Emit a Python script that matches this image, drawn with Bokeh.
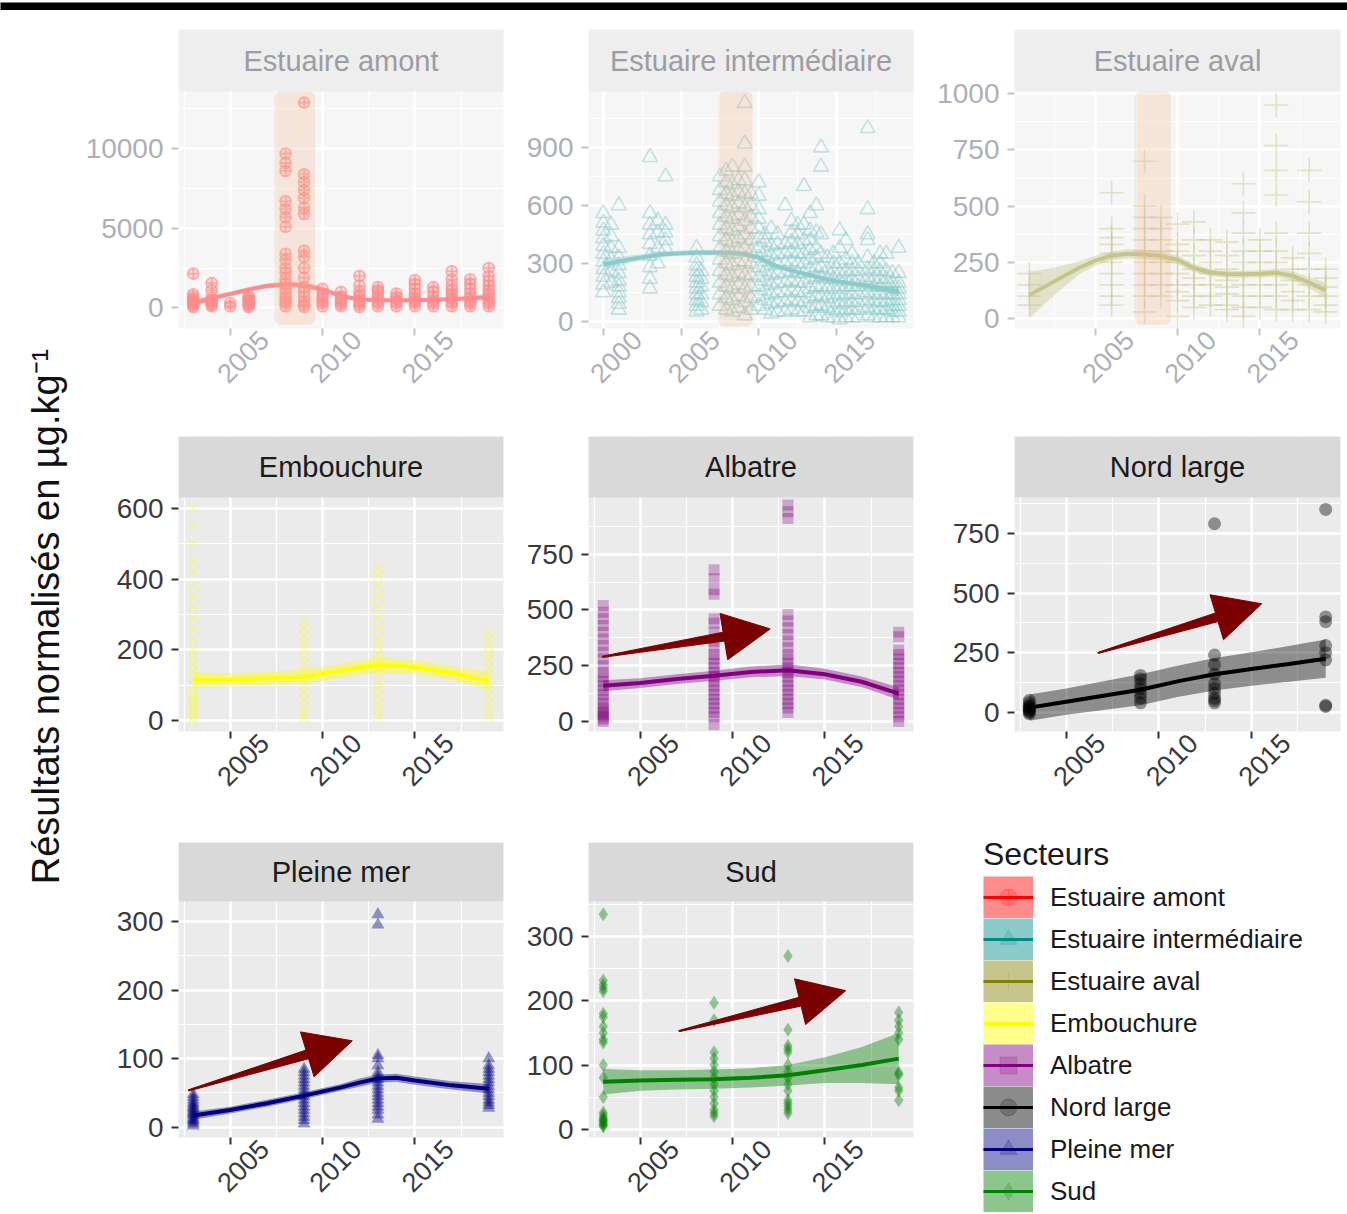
import math
from bokeh.plotting import figure
from bokeh.layouts import row, column
from bokeh.models import (Range1d, FixedTicker, BoxAnnotation, Legend, LegendItem,
                          ColumnDataSource, LinearAxis)
from bokeh.core.properties import value
from bokeh.embed import file_html
from bokeh.resources import INLINE

FONT = "Liberation Sans"

# ---------------- data ----------------
SECTEURS = ["Estuaire amont", "Estuaire intermédiaire", "Estuaire aval", "Embouchure",
            "Albatre", "Nord large", "Pleine mer", "Sud"]
COLORS = ["#FF0000", "#008B8B", "#808000", "#FFFF00", "#800080", "#000000", "#000080", "#008000"]
MARKERS = ["circle_cross", "triangle", "cross", "x", "square", "circle", "triangle", "diamond"]
Y_LABEL = "Résultats normalisés en µg.kg⁻¹"

AMONT_PTS = {
    2003: [50, 150, 250, 350, 450, 550, 700, 850, 2150],
    2004: [100, 200, 300, 400, 500, 650, 1100, 1550],
    2005: [100, 300],
    2006: [50, 150, 250, 350, 450, 550, 650, 750],
    2008: [100, 300, 500, 700, 900, 1200, 1500, 1800, 2200, 2500, 3000, 3400, 5100, 5700, 6200, 6700, 8600, 9100, 9700],
    2009: [50, 200, 400, 700, 1000, 1300, 1900, 2500, 3200, 3600, 5900, 6300, 6900, 7400, 7900, 8400, 12900],
    2010: [100, 300, 500, 700, 900, 1200],
    2011: [100, 250, 400, 550, 700, 1000],
    2012: [50, 200, 400, 600, 800, 1000, 1400, 2000],
    2013: [100, 300, 500, 700, 900, 1100, 1300],
    2014: [100, 300, 500, 700, 900],
    2015: [100, 300, 500, 700, 900, 1200, 1500, 1750],
    2016: [100, 300, 500, 700, 1000, 1300],
    2017: [100, 300, 500, 700, 900, 1100, 1400, 1800, 2300],
    2018: [100, 300, 500, 700, 900, 1200, 1500, 1800],
    2019: [100, 300, 500, 700, 900, 1100, 1400, 1700, 2000, 2500],
}
AMONT_FIT_X = [2003, 2004, 2005, 2006, 2007, 2008, 2009, 2010, 2011, 2012, 2013, 2014, 2015, 2016, 2017, 2018, 2019]
AMONT_FIT_Y = [300, 600, 880, 1150, 1380, 1480, 1420, 1150, 750, 520, 480, 470, 480, 500, 540, 600, 680]
AMONT_FIT_H = [250, 180, 150, 150, 170, 180, 180, 170, 150, 130, 120, 120, 120, 120, 130, 150, 200]

INTERM_PTS = {
    2000.0: [150, 190, 230, 270, 310, 350, 390, 430, 470, 510, 560],
    2000.5: [200, 260, 320, 380, 440, 500],
    2001.0: [60, 90, 120, 150, 180, 210, 250, 290, 330, 380, 600],
    2003.0: [170, 220, 280, 340, 400, 450, 500, 560, 850],
    2003.5: [300, 380, 460, 520],
    2004.0: [380, 420, 460, 500, 750],
    2006.0: [50, 80, 110, 140, 170, 200, 230, 260, 290, 330, 380],
    2006.3: [60, 100, 140, 180, 220, 260],
    2007.5: [80, 140, 200, 260, 320, 380, 440, 500, 560, 620, 680, 750],
    2007.9: [60, 120, 180, 240, 300, 360, 420, 480, 540, 600, 660, 720, 780],
    2008.3: [50, 110, 170, 230, 290, 350, 410, 470, 530, 590, 650, 710, 800],
    2008.7: [70, 130, 190, 250, 310, 370, 430, 490, 550, 610, 670, 730],
    2009.1: [30, 100, 170, 240, 310, 380, 450, 520, 590, 660, 730, 800, 920, 1130],
    2009.5: [60, 120, 180, 240, 300, 360, 420, 480, 540, 600, 660],
    2010.0: [80, 130, 180, 230, 280, 330, 380, 430, 480, 530, 580, 650, 720],
    2010.4: [60, 110, 160, 210, 260, 310, 360, 410, 450],
    2010.8: [40, 90, 140, 190, 240, 290, 340, 390, 480],
    2011.2: [50, 100, 150, 200, 250, 300, 350, 400, 450],
    2011.7: [50, 100, 150, 200, 250, 300, 350, 400, 600],
    2012.1: [60, 110, 160, 210, 260, 310, 360, 410, 460, 520],
    2012.5: [50, 100, 150, 200, 250, 300, 350, 400, 450, 500],
    2012.9: [50, 100, 150, 200, 250, 300, 350, 420, 500, 700],
    2013.3: [20, 70, 120, 170, 220, 270, 320, 370, 420, 470, 560],
    2013.7: [30, 80, 130, 180, 230, 280, 330, 380, 460, 600],
    2014.0: [30, 80, 130, 180, 230, 280, 350, 450, 800, 900],
    2014.4: [20, 70, 120, 170, 220, 270, 330],
    2014.8: [20, 60, 100, 140, 180, 220, 260, 300, 350],
    2015.2: [10, 50, 90, 130, 170, 210, 250, 300, 380, 470],
    2015.6: [20, 60, 100, 140, 180, 220, 260, 320, 420],
    2016.0: [20, 60, 100, 140, 180, 220, 260, 300, 350],
    2016.4: [20, 60, 100, 140, 180, 220, 260, 300],
    2017.0: [30, 70, 110, 150, 190, 230, 270, 330, 420, 450, 580, 1000],
    2017.4: [20, 60, 100, 140, 180, 220, 260, 300],
    2017.8: [20, 60, 100, 140, 180, 220, 260, 300, 350],
    2018.2: [20, 60, 100, 140, 180, 220, 260, 350],
    2018.6: [20, 50, 80, 110, 140, 170, 200, 250],
    2019.0: [20, 50, 80, 110, 140, 170, 200, 250, 380],
}
INTERM_FIT_X = [2000, 2001, 2002, 2003, 2004, 2005, 2006, 2007, 2008, 2009, 2010,
                2011, 2012, 2013, 2014, 2015, 2016, 2017, 2018, 2019]
INTERM_FIT_Y = [295, 310, 325, 338, 348, 353, 355, 356, 355, 350, 330, 290, 265, 245, 225, 208, 195, 183, 170, 155]
INTERM_FIT_H = [30, 22, 18, 15, 14, 14, 14, 14, 14, 14, 14, 14, 12, 12, 12, 12, 12, 14, 18, 25]

AVAL_PTS = {
    2001: [60, 100, 150, 200],
    2006: [60, 100, 150, 200, 250, 290, 330, 360, 400, 560],
    2008: [30, 100, 150, 200, 250, 300, 350, 400, 450, 500, 700],
    2009: [100, 150, 200, 250, 300, 350, 400, 450],
    2010: [10, 80, 120, 150, 200, 250, 300, 330, 420],
    2011: [50, 100, 150, 180, 220, 280, 350, 430],
    2012: [60, 100, 150, 200, 250, 300, 350],
    2013: [40, 60, 110, 140, 170, 220, 280, 340],
    2014: [10, 50, 100, 150, 200, 250, 300, 380, 470, 600],
    2015: [50, 100, 150, 200, 250, 300, 350],
    2016: [40, 100, 150, 200, 250, 300, 380, 550, 660, 770, 950],
    2017: [40, 80, 120, 170, 220, 270],
    2018: [40, 100, 150, 220, 290, 380, 520, 660],
    2019: [30, 60, 100, 140, 180, 220],
}
AVAL_FIT_X = [2001, 2002, 2003, 2004, 2005, 2006, 2007, 2008, 2009, 2010,
              2011, 2012, 2013, 2014, 2015, 2016, 2017, 2018, 2019]
AVAL_FIT_Y = [105, 145, 185, 225, 258, 280, 288, 285, 278, 262, 225, 205, 198, 197, 200, 204, 190, 160, 125]
AVAL_FIT_H = [105, 75, 50, 30, 22, 20, 20, 20, 20, 20, 18, 16, 16, 16, 16, 18, 20, 25, 35]

EMB_PTS = {
    2003: [0, 10, 20, 30, 40, 50, 60, 70, 80, 100, 120, 140, 160, 180, 200, 230, 260, 290, 320, 350, 380, 420, 450, 500, 550, 600],
    2009: [10, 20, 40, 60, 80, 100, 120, 140, 160, 180, 200, 220, 240, 260, 280],
    2013: [10, 30, 50, 70, 90, 110, 130, 150, 170, 190, 210, 230, 260, 290, 320, 350, 380, 410, 430],
    2019: [10, 30, 50, 70, 90, 110, 130, 150, 170, 190, 210, 230, 250],
}
EMB_FIT_X = [2003, 2005, 2007, 2009, 2011, 2013, 2015, 2017, 2019]
EMB_FIT_Y = [115, 117, 120, 125, 142, 158, 152, 135, 112]
EMB_FIT_H = [22, 18, 18, 20, 20, 22, 20, 20, 25]

ALB_PTS = {
    2003: [0, 10, 20, 30, 40, 50, 60, 80, 100, 120, 140, 160, 180, 200, 220, 250, 280, 310, 340, 370, 400, 430, 460, 490, 520],
    2009: [-15, 20, 40, 60, 80, 100, 120, 140, 160, 180, 200, 220, 240, 260, 280, 300, 330, 360, 400, 440, 460, 570, 590, 640, 680],
    2013: [40, 60, 80, 100, 120, 140, 160, 180, 200, 220, 240, 260, 280, 300, 330, 360, 390, 420, 450, 480, 910, 940, 970],
    2019: [0, 20, 40, 60, 80, 100, 120, 140, 160, 180, 200, 220, 240, 260, 280, 300, 320, 380, 400],
}
ALB_FIT_X = [2003, 2005, 2007, 2009, 2011, 2013, 2015, 2017, 2019]
ALB_FIT_Y = [160, 172, 190, 205, 222, 230, 212, 178, 125]
ALB_FIT_H = [25, 22, 22, 22, 24, 26, 24, 24, 28]

NORD_PTS = {
    2003: [-5, 0, 5, 10, 15, 20, 25, 30, 40, 50],
    2009: [40, 60, 80, 100, 120, 140, 155],
    2013: [40, 50, 60, 80, 100, 120, 160, 200, 240, 790],
    2019: [25, 30, 220, 250, 280, 380, 400, 850],
}
NORD_FIT_X = [2003, 2005, 2007, 2009, 2011, 2013, 2015, 2017, 2019]
NORD_FIT_Y = [20, 45, 70, 95, 130, 160, 182, 203, 225]
NORD_FIT_H = [55, 55, 60, 65, 65, 68, 70, 75, 80]

PLEINE_PTS = {
    2003: [2, 5, 8, 10, 12, 15, 18, 20, 22, 25, 28, 30, 33, 36, 40, 44, 48],
    2009: [5, 10, 15, 20, 25, 30, 35, 40, 45, 50, 55, 60, 65, 70, 75, 80, 85],
    2013: [12, 18, 25, 30, 35, 40, 45, 50, 55, 60, 65, 70, 75, 80, 90, 100, 105, 295, 310],
    2019: [28, 32, 36, 40, 45, 50, 55, 60, 65, 70, 75, 80, 85, 90, 100],
}
PLEINE_FIT_X = [2003, 2005, 2007, 2009, 2011, 2012, 2013, 2014, 2015, 2017, 2019]
PLEINE_FIT_Y = [17, 25, 35, 46, 58, 65, 71, 72, 68, 61, 56]
PLEINE_FIT_H = [6, 5, 5, 5, 5, 6, 6, 6, 6, 6, 7]

SUD_PTS = {
    2003: [4, 6, 8, 10, 12, 14, 16, 18, 22, 26, 50, 80, 100, 135, 140, 150, 160, 175, 180, 215, 220, 225, 232, 335],
    2009: [20, 25, 30, 40, 50, 60, 70, 80, 90, 100, 110, 120, 170, 197],
    2013: [25, 30, 35, 40, 45, 60, 70, 80, 90, 100, 120, 125, 130, 155, 270],
    2019: [45, 60, 65, 85, 88, 140, 150, 160, 170, 182],
}
SUD_FIT_X = [2003, 2005, 2007, 2009, 2011, 2013, 2015, 2017, 2019]
SUD_FIT_Y = [74, 76, 77, 78, 80, 84, 92, 100, 110]
SUD_FIT_H = [20, 16, 15, 15, 15, 16, 20, 28, 40]

HIGHLIGHT_YEARS = (2007.4, 2009.6)

ARROW_ALBATRE = ((2002.96, 290), (2012.04, 415))
ARROW_NORD = ((2006.71, 249), (2015.55, 455))
ARROW_PLEINE = ((2002.74, 53.6), (2011.61, 126))
ARROW_SUD = ((2007.1, 153), (2016.13, 216))

X_TICKS_A = [2005, 2010, 2015]
X_TICKS_B = [2000, 2005, 2010, 2015]
X_MINOR = [1997.5, 2002.5, 2007.5, 2012.5, 2017.5]

PANELS = [
    dict(pts=AMONT_PTS, fx=AMONT_FIT_X, fy=AMONT_FIT_Y, fh=AMONT_FIT_H, xr=(2002.2, 2019.8), yr=(-1300, 13600),
         xt=X_TICKS_A, yt=[0, 5000, 10000], ym=[2500, 7500, 12500], hb=-1070, arrow=None,
         size=11, alpha=0.7, filled=False, fill_alpha=0.25),
    dict(pts=INTERM_PTS, fx=INTERM_FIT_X, fy=INTERM_FIT_Y, fh=INTERM_FIT_H, xr=(1999.05, 2019.95), yr=(-37, 1190),
         xt=X_TICKS_B, yt=[0, 300, 600, 900], ym=[150, 450, 750, 1050], hb=-26, arrow=None,
         size=15, alpha=0.5, filled=False, fill_alpha=0),
    dict(pts=AVAL_PTS, fx=AVAL_FIT_X, fy=AVAL_FIT_Y, fh=AVAL_FIT_H, xr=(2000.1, 2019.9), yr=(-44, 1010),
         xt=X_TICKS_A, yt=[0, 250, 500, 750, 1000], ym=[125, 375, 625, 875], hb=-27, arrow=None,
         size=24, alpha=0.45, filled=False, fill_alpha=0),
    dict(pts=EMB_PTS, fx=EMB_FIT_X, fy=EMB_FIT_Y, fh=EMB_FIT_H, xr=(2002.2, 2019.8), yr=(-30, 630),
         xt=X_TICKS_A, yt=[0, 200, 400, 600], ym=[100, 300, 500], hb=None, arrow=None,
         size=13, alpha=0.35, filled=False, fill_alpha=0),
    dict(pts=ALB_PTS, fx=ALB_FIT_X, fy=ALB_FIT_Y, fh=ALB_FIT_H, xr=(2002.2, 2019.8), yr=(-45, 1004),
         xt=X_TICKS_A, yt=[0, 250, 500, 750], ym=[125, 375, 625, 875], hb=None, arrow=ARROW_ALBATRE,
         size=11, alpha=0.3, filled=True, fill_alpha=0.3),
    dict(pts=NORD_PTS, fx=NORD_FIT_X, fy=NORD_FIT_Y, fh=NORD_FIT_H, xr=(2002.2, 2019.8), yr=(-80, 900),
         xt=X_TICKS_A, yt=[0, 250, 500, 750], ym=[125, 375, 625, 875], hb=None, arrow=ARROW_NORD,
         size=13, alpha=0.4, filled=True, fill_alpha=0.4),
    dict(pts=PLEINE_PTS, fx=PLEINE_FIT_X, fy=PLEINE_FIT_Y, fh=PLEINE_FIT_H, xr=(2002.2, 2019.8), yr=(-15, 329),
         xt=X_TICKS_A, yt=[0, 100, 200, 300], ym=[50, 150, 250], hb=None, arrow=ARROW_PLEINE,
         size=13, alpha=0.4, filled=True, fill_alpha=0.4),
    dict(pts=SUD_PTS, fx=SUD_FIT_X, fy=SUD_FIT_Y, fh=SUD_FIT_H, xr=(2002.2, 2019.8), yr=(-13, 355),
         xt=X_TICKS_A, yt=[0, 100, 200, 300], ym=[50, 150, 250, 350], hb=None, arrow=ARROW_SUD,
         size=14, alpha=0.4, filled=True, fill_alpha=0.4),
]

# ---------------- layout geometry (pixels) ----------------
TOP_BAR = 10
YLAB_W = 70
COLS = [(440, 108, 7), (410, 78, 7), (427, 94, 7)]             # width, left border, right border
ROWS = [(19, 62, 237, 102), (6, 61, 234, 105), (6, 59, 236, 77)]  # top border, strip, data frame, bottom border
LABEL_SHIFT_PX = 34
KEY_H = 42


def fade(c, f=0.55):
    r, g, b = int(c[1:3], 16), int(c[3:5], 16), int(c[5:7], 16)
    return "#%02x%02x%02x" % tuple(int(round(v + (255 - v) * f)) for v in (r, g, b))


def arrow_polygon(tail, tip, sx, sy):
    x0, y0 = tail[0] * sx, tail[1] * sy
    x1, y1 = tip[0] * sx, tip[1] * sy
    L = math.hypot(x1 - x0, y1 - y0)
    ux, uy = (x1 - x0) / L, (y1 - y0) / L
    nx, ny = -uy, ux
    HL, HW, SW, TW = 47.0, 23.5, 4.5, 0.6
    bx, by = x1 - ux * HL, y1 - uy * HL
    pts = [(x0 + nx * TW, y0 + ny * TW), (bx + nx * SW, by + ny * SW), (bx + nx * HW, by + ny * HW),
           (x1, y1), (bx - nx * HW, by - ny * HW), (bx - nx * SW, by - ny * SW), (x0 - nx * TW, y0 - ny * TW)]
    return [p[0] / sx for p in pts], [p[1] / sy for p in pts]


def make_panel(i, ci, ri):
    cfg = PANELS[i]
    faded = ri == 0
    w, bl, br = COLS[ci]
    bt, sh, dh, bb = ROWS[ri]
    fw = w - bl - br
    x0, x1 = cfg["xr"]
    y0, y1 = cfg["yr"]
    sx = fw / (x1 - x0)
    sy = dh / (y1 - y0)
    y_top = y1 + sh / sy
    col = fade(COLORS[i]) if faded else COLORS[i]

    p = figure(width=w, height=bt + sh + dh + bb, x_range=Range1d(x0, x1), y_range=Range1d(y0, y_top),
               toolbar_location=None, output_backend="svg",
               min_border_left=bl, min_border_right=br, min_border_top=bt, min_border_bottom=bb,
               background_fill_color="#F6F6F6" if faded else "#EBEBEB", border_fill_color="white",
               outline_line_color=None)
    txt_col = "#AFAFB7" if faded else "#3A3A3A"
    tick_col = "#C4C4C4" if faded else "#333333"

    xt_ticker = FixedTicker(ticks=cfg["xt"], minor_ticks=X_MINOR)
    yt_ticker = FixedTicker(ticks=cfg["yt"], minor_ticks=cfg["ym"])
    p.xaxis.ticker = xt_ticker
    p.yaxis.ticker = yt_ticker
    p.xgrid.ticker = xt_ticker
    p.ygrid.ticker = yt_ticker
    for ax in (p.xaxis[0], p.yaxis[0]):
        ax.axis_line_color = None
        ax.major_tick_line_color = tick_col
        ax.major_tick_line_width = 2
        ax.major_tick_out = 7
        ax.major_tick_in = 0
        ax.minor_tick_line_color = None
        ax.major_label_text_font = FONT
        ax.major_label_text_color = txt_col
    p.xaxis.major_label_overrides = {t: "" for t in cfg["xt"]}
    p.xaxis.major_label_text_font_size = "2px"
    p.xaxis.major_label_standoff = 0
    p.yaxis.major_label_text_font_size = "28px"
    p.yaxis.major_label_standoff = 8

    # rotated year labels on a second axis, shifted like the reference
    d = LABEL_SHIFT_PX / sx
    p.extra_x_ranges = {"lab": Range1d(x0 - d, x1 - d)}
    lab_ax = LinearAxis(x_range_name="lab", ticker=FixedTicker(ticks=cfg["xt"]),
                        axis_line_color=None, major_tick_line_color=None, minor_tick_line_color=None,
                        major_tick_out=0, major_tick_in=0, major_label_standoff=0,
                        major_label_orientation=math.pi / 4, major_label_text_font=FONT,
                        major_label_text_font_size="27px", major_label_text_color=txt_col)
    p.add_layout(lab_ax, "below")

    for g in (p.xgrid[0], p.ygrid[0]):
        g.grid_line_color = "white"
        g.grid_line_width = 2.5
        g.minor_grid_line_color = "white"
        g.minor_grid_line_width = 1.2

    xs, ys = [], []
    for yr_, vals in cfg["pts"].items():
        for v in vals:
            xs.append(yr_)
            ys.append(v)
    src = ColumnDataSource(dict(x=xs, y=ys))
    if cfg["filled"]:
        p.scatter("x", "y", source=src, marker=MARKERS[i], size=cfg["size"],
                  fill_color=col, fill_alpha=cfg["fill_alpha"], line_color=None)
    else:
        p.scatter("x", "y", source=src, marker=MARKERS[i], size=cfg["size"],
                  fill_color=col, fill_alpha=cfg["fill_alpha"],
                  line_color=col, line_alpha=cfg["alpha"], line_width=1.6)

    lo = [f - h for f, h in zip(cfg["fy"], cfg["fh"])]
    hi = [f + h for f, h in zip(cfg["fy"], cfg["fh"])]
    p.varea(x=cfg["fx"], y1=lo, y2=hi, fill_color=col, fill_alpha=0.4)
    p.line(cfg["fx"], cfg["fy"], line_color=col, line_width=4)

    if cfg["hb"] is not None:
        p.add_layout(BoxAnnotation(left=HIGHLIGHT_YEARS[0], right=HIGHLIGHT_YEARS[1],
                                   bottom=cfg["hb"], top=y1,
                                   fill_color="#F4B183", fill_alpha=0.25, line_color=None,
                                   border_radius=6))
    if cfg["arrow"] is not None:
        ax_, ay_ = arrow_polygon(cfg["arrow"][0], cfg["arrow"][1], sx, sy)
        p.patch(ax_, ay_, fill_color="#7B0000", line_color="#7B0000", line_width=1)

    # facet strip (ggplot-like), inside the frame above the data area
    p.quad(left=[x0], right=[x1], bottom=[y1], top=[y_top],
           fill_color="#EEEEEE" if faded else "#D9D9D9", line_color=None)
    p.text(x=[(x0 + x1) / 2], y=[(y1 + y_top) / 2], text=[SECTEURS[i]], text_align="center",
           text_baseline="middle", text_font=value(FONT), text_font_size="29px",
           text_color="#9C9CA4" if faded else "#1A1A1A")
    return p


def make_legend():
    w = COLS[2][0]
    bt, sh, dh, bb = ROWS[2]
    h = bt + sh + dh + bb
    p = figure(width=w, height=h, x_range=Range1d(0, 1), y_range=Range1d(0, 1),
               x_axis_type=None, y_axis_type=None, toolbar_location=None, output_backend="svg",
               min_border_left=63, min_border_right=0, min_border_top=0, min_border_bottom=0,
               background_fill_color="white", border_fill_color="white", outline_line_color=None)
    p.grid.visible = False
    items = []
    for i, name in enumerate(SECTEURS):
        r1 = p.line([-10, -9], [-10, -10], line_color=fade(COLORS[i]), line_width=KEY_H)
        r2 = p.line([-10, -9], [-10, -10], line_color=COLORS[i], line_width=3)
        r3 = p.scatter([-10], [-10], marker=MARKERS[i], size=7, fill_color=COLORS[i],
                       line_color=COLORS[i], alpha=0.2)
        items.append(LegendItem(label=name, renderers=[r1, r2, r3]))
    leg = Legend(items=items, location="top_left", title="Secteurs",
                 title_text_font=FONT, title_text_font_size="32px", title_text_font_style="normal",
                 title_text_color="#1A1A1A", title_standoff=3,
                 label_text_font=FONT, label_text_font_size="26px", label_text_color="#1A1A1A",
                 glyph_width=50, glyph_height=KEY_H, label_height=KEY_H, label_standoff=17,
                 spacing=0, padding=0, margin=0, border_line_color=None, background_fill_alpha=0)
    p.add_layout(leg)
    return p


def make_ylabel(H):
    p = figure(width=YLAB_W, height=H, x_range=Range1d(0, YLAB_W), y_range=Range1d(0, H),
               x_axis_type=None, y_axis_type=None, toolbar_location=None, output_backend="svg",
               min_border=0, background_fill_color="white", border_fill_color="white",
               outline_line_color=None)
    p.grid.visible = False
    p.text(x=[45], y=[H - 606], text=[Y_LABEL], angle=math.pi / 2, text_align="center",
           text_baseline="middle", text_font=value(FONT), text_font_size="38px", text_color="#111111")
    return p


def make_top_bar(W):
    p = figure(width=W, height=TOP_BAR, x_range=Range1d(0, 1), y_range=Range1d(0, 1),
               x_axis_type=None, y_axis_type=None, toolbar_location=None, output_backend="svg",
               min_border=0, background_fill_color="black", border_fill_color="black",
               outline_line_color=None)
    p.grid.visible = False
    return p


grid_rows = []
for ri in range(3):
    children = []
    for ci in range(3):
        i = ri * 3 + ci
        if i >= len(PANELS):
            children.append(column(make_legend()))
        else:
            children.append(make_panel(i, ci, ri))
    grid_rows.append(row(*children))

total_h = sum(r[0] + r[1] + r[2] + r[3] for r in ROWS)
total_w = YLAB_W + sum(c[0] for c in COLS)
layout = column(make_top_bar(total_w), row(make_ylabel(total_h), column(*grid_rows)))

open("out.html", "w").write(file_html(layout, INLINE))
